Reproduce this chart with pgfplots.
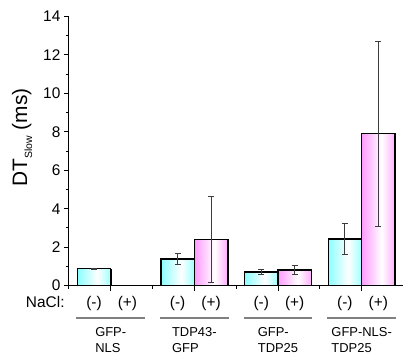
\documentclass[border=0pt]{standalone}
\usepackage{pgfplots}
\pgfplotsset{compat=1.18}
\usepackage{fontspec}
\setmainfont{Liberation Sans}

\definecolor{barcyan}{RGB}{40,255,255}
\definecolor{barpink}{RGB}{255,70,255}
\definecolor{errgray}{RGB}{60,60,60}
\definecolor{groupgray}{RGB}{128,128,128}

% bars fade to white towards the middle
\pgfdeclarehorizontalshading{cyanbar}{100bp}{color(0bp)=(barcyan); color(55bp)=(white); color(100bp)=(barcyan)}
\pgfdeclarehorizontalshading{pinkbar}{100bp}{color(0bp)=(barpink); color(55bp)=(white); color(100bp)=(barpink)}

\pgfplotsset{
  minus/.style={shade, shading=cyanbar, postaction={draw=black, line width=1.2bp}},
  plus/.style={shade, shading=pinkbar, postaction={draw=black, line width=1.2bp}},
}

\begin{document}
\begin{tikzpicture}
\begin{axis}[
  at={(0,0)}, anchor=south west,
  scale only axis,
  width=335bp, height=269.5bp,
  xmin=-0.5, xmax=3.5,
  ymin=0, ymax=14,
  axis x line=bottom, axis y line=left,
  axis line style={-, line width=1.1bp, black},
  ytick={0,2,...,14},
  minor y tick num=1,
  xtick={0,1,2,3},
  xticklabels={},
  minor xtick={-0.5,0.5,1.5,2.5},
  tick align=outside,
  major tick length=5bp,
  minor tick length=3bp,
  tick style={line width=0.9bp, black},
  /pgf/number format/assume math mode=true,
  yticklabel style={font=\fontsize{15.5}{18}\selectfont},
  ylabel={DT\raisebox{-5bp}{\fontsize{10.5}{12}\selectfont Slow} (ms)},
  ylabel style={font=\fontsize{21}{24}\selectfont, at={(axis description cs:-0.14,0.55)}, anchor=center},
  clip=false,
  ybar, bar width=0.4, bar shift=0,
  error bars/y dir=both, error bars/y explicit,
  error bars/error bar style={errgray, line width=0.9bp},
  error bars/error mark options={errgray, rotate=90, mark size=3bp, line width=0.9bp},
]
% NaCl (-): one plot per bar so each bar gets its own shading
\addplot[minus] coordinates {(-0.2,0.87) +- (0,0.02)};
\addplot[minus] coordinates {(0.8,1.38) +- (0,0.29)};
\addplot[minus] coordinates {(1.8,0.71) +- (0,0.11)};
\addplot[minus] coordinates {(2.8,2.42) +- (0,0.81)};
% NaCl (+)
\addplot[plus] coordinates {(1.2,2.40) +- (0,2.25)};
\addplot[plus] coordinates {(2.2,0.81) +- (0,0.23)};
\addplot[plus] coordinates {(3.2,7.91) +- (0,4.81)};

% condition labels under the axis
\node[anchor=base east, font=\fontsize{15.5}{18}\selectfont] at (axis cs:-0.51,-1.14) {NaCl:};
\pgfplotsinvokeforeach{0,1,2,3}{
  \node[anchor=base, font=\fontsize{15.5}{18}\selectfont] at (axis cs:#1-0.2,-1.14) {(-)};
  \node[anchor=base, font=\fontsize{15.5}{18}\selectfont] at (axis cs:#1+0.2,-1.14) {(+)};
  \draw[groupgray, line width=2.6bp] (axis cs:#1-0.41,-1.68) -- (axis cs:#1+0.41,-1.68);
}
% construct names
\node[anchor=north, inner sep=0pt, align=left, font=\fontsize{13}{15.8}\selectfont] at (axis cs:0,-2.19) {GFP-\\NLS};
\node[anchor=north, inner sep=0pt, align=left, font=\fontsize{13}{15.8}\selectfont] at (axis cs:1,-2.19) {TDP43-\\GFP};
\node[anchor=north, inner sep=0pt, align=left, font=\fontsize{13}{15.8}\selectfont] at (axis cs:2,-2.19) {GFP-\\TDP25};
\node[anchor=north, inner sep=0pt, align=left, font=\fontsize{13}{15.8}\selectfont] at (axis cs:3,-2.19) {GFP-NLS-\\TDP25};
\end{axis}
\path[use as bounding box] (-69bp,-74bp) rectangle (335bp,286bp);
\end{tikzpicture}
\end{document}
